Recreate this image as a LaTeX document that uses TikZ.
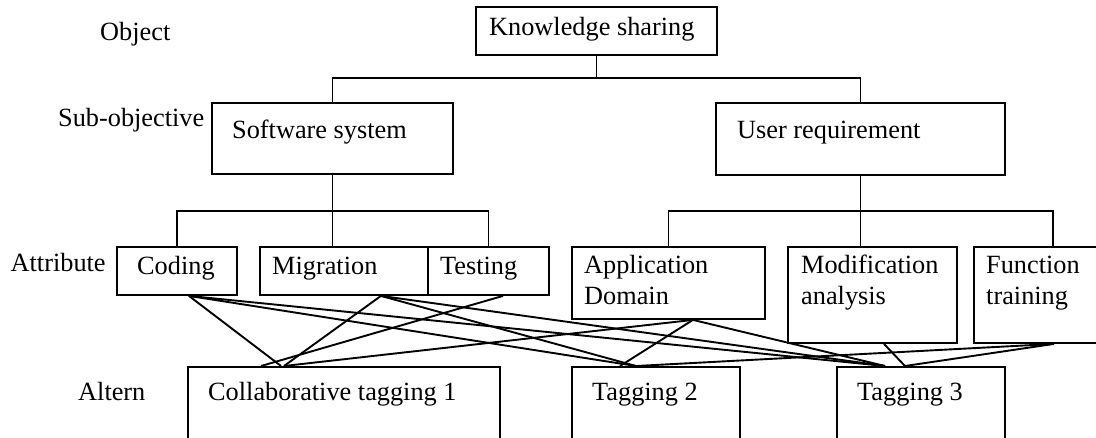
\documentclass[tikz,border=0pt]{standalone}
\usepackage{fontspec}
\setmainfont{Liberation Serif}
\newcommand\hfont{\fontsize{26.3}{30.5}\selectfont}
\begin{document}
\begin{tikzpicture}[x=1pt,y=-1pt,
  box/.style={draw, line width=1.9pt, inner sep=0pt, anchor=north west},
  lbl/.style={anchor=base west, inner sep=0pt, font=\hfont},
  link/.style={line width=1.9pt}]
\useasboundingbox (0,0) rectangle (1096,437);
\clip (0,0) rectangle (1096,437);

% level captions
\node[lbl] (l-obj) at (100,40) {Object};
\node[lbl] (l-sub) at (58,126) {Sub-objective};
\node[lbl] (l-att) at (10.5,271) {Attribute};
\node[lbl] (l-alt) at (78,400) {Altern};

% boxes
\node[box, minimum width=241pt, minimum height=48pt] (ks) at (475,6) {};
\node[box, minimum width=241pt, minimum height=71pt] (ss) at (211,102) {};
\node[box, minimum width=289pt, minimum height=72pt] (ur) at (715,102) {};
\node[box, minimum width=120pt, minimum height=48pt] (cod) at (116,246) {};
\node[box, minimum width=168pt, minimum height=48pt] (mig) at (259,246) {};
\node[box, minimum width=121pt, minimum height=48pt] (tes) at (427,246) {};
\node[box, minimum width=193pt, minimum height=72pt] (app) at (571,246) {};
\node[box, minimum width=169pt, minimum height=96pt] (mod) at (787,246) {};
\node[box, minimum width=158pt, minimum height=96pt] (fun) at (973,246) {};
\node[box, minimum width=312pt, minimum height=90pt] (alt1) at (187,366) {};
\node[box, minimum width=168pt, minimum height=90pt] (alt2) at (571,366) {};
\node[box, minimum width=168pt, minimum height=90pt] (alt3) at (836,366) {};

% box texts
\node[lbl] (t-ks) at (489,35) {Knowledge sharing};
\node[lbl] (t-ss) at (232,138) {Software system};
\node[lbl] (t-ur) at (737,138) {User requirement};
\node[lbl] (t-cod) at (137,274) {Coding};
\node[lbl] (t-mig) at (272,274) {Migration};
\node[lbl] (t-tes) at (440,274) {Testing};
\node[lbl] (t-app) at (584,273.5) {\begin{tabular}[t]{@{}l@{}}Application\\Domain\end{tabular}};
\node[lbl] (t-mod) at (801,273.5) {\begin{tabular}[t]{@{}l@{}}Modification\\analysis\end{tabular}};
\node[lbl] (t-fun) at (986,273.5) {\begin{tabular}[t]{@{}l@{}}Function\\training\end{tabular}};
\node[lbl] (t-a1) at (208,400) {Collaborative tagging 1};
\node[lbl] (t-a2) at (592,400) {Tagging 2};
\node[lbl] (t-a3) at (857,400) {Tagging 3};

% tree connectors
\coordinate (bar0) at (0,78);
\coordinate (bar1) at (0,211);
\draw[link] (ks.south) -- (ks.south |- bar0);
\draw[link] (ss.north) |- (ur.north |- bar0) -- (ur.north);
\draw[link] (ss.south) -- (ss.south |- bar1);
\draw[link] (cod.north) |- (tes.north |- bar1) -- (tes.north);
\draw[link] (ss.south |- bar1) -- (ss.south |- mig.north);
\draw[link] (ur.south) -- (ur.south |- bar1);
\draw[link] (app.north) |- (fun.north |- bar1) -- (fun.north);
\draw[link] (ur.south |- bar1) -- (ur.south |- mod.north);

% attribute outlets
\coordinate (o-cod) at ([xshift=12pt]cod.south);
\coordinate (o-mig) at ([xshift=37pt]mig.south);
\coordinate (o-tes) at ([xshift=14.5pt]tes.south);
\coordinate (o-app) at ([xshift=24.5pt]app.south);
\coordinate (o-mod) at ([xshift=11.5pt]mod.south);
\coordinate (o-fun) at ([xshift=1pt]fun.south);
% alternative inlets
\coordinate (i1a) at ([xshift=74pt]alt1.north west);
\coordinate (i1b) at ([xshift=94pt]alt1.north west);
\coordinate (i1c) at ([xshift=97pt]alt1.north west);
\coordinate (i2a) at ([xshift=49pt]alt2.north west);
\coordinate (i2b) at ([xshift=65pt]alt2.north west);
\coordinate (i3a) at ([xshift=49pt]alt3.north west);
\coordinate (i3b) at ([xshift=69pt]alt3.north west);

% attribute-to-alternative links
\draw[link] (o-cod) -- (i1b);
\draw[link] (o-cod) -- (i2b);
\draw[link] (o-cod) -- (i3a);
\draw[link] (o-mig) -- (i1c);
\draw[link] (o-mig) -- (i2b);
\draw[link] (o-mig) -- (i3a);
\draw[link] (o-tes) -- (i1a);
\draw[link] (o-app) -- (i1c);
\draw[link] (o-app) -- (i2a);
\draw[link] (o-app) -- (i3a);
\draw[link] (o-mod) -- (i3b);
\draw[link] (o-fun) -- (i2b);
\draw[link] (o-fun) -- (i3b);
\end{tikzpicture}
\end{document}
